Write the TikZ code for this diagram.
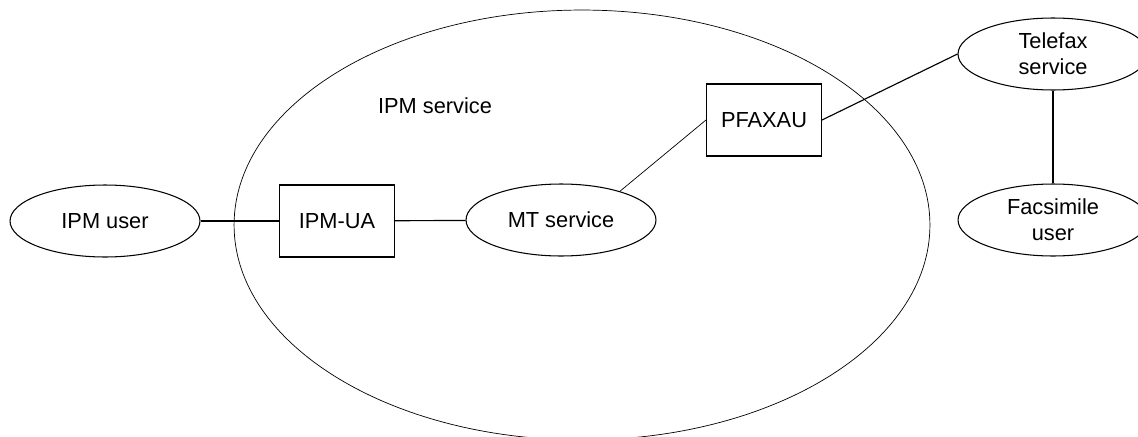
\documentclass[tikz,border=0pt]{standalone}
\usepackage{fontspec}
\setmainfont{Liberation Sans}
\usetikzlibrary{shapes.geometric}

\tikzset{
  svc/.style={draw, ellipse, line width=0.6pt, minimum width=3.8cm, minimum height=1.44cm,
    inner sep=0pt, align=center, font=\fontsize{12.4}{14.7}\selectfont},
  unit/.style={draw, rectangle, line width=0.6pt, minimum width=2.3cm, minimum height=1.44cm,
    inner sep=0pt, font=\fontsize{12.4}{14.7}\selectfont},
  link/.style={line width=0.65pt},
  thinlink/.style={line width=0.4pt}
}

\begin{document}
\begin{tikzpicture}[x=0.02cm, y=-0.02cm]
			%%%%% frame %%%%%
			\useasboundingbox (0,0) rectangle (1138,436);
			
			% IPM service domain
			\draw[thinlink] (582,225) ellipse [x radius=6.96cm, y radius=4.3cm];
			\node[font=\fontsize{12.4}{14.7}\selectfont] (ipmsvc) at (435,106) {IPM service};
			
			\node[svc] (ipmuser) at (105,221) {IPM user};
			\node[unit] (ipmua) at (337,221) {IPM-UA};
			\node[svc] (mt) at (561,220) {MT service};
			\node[unit] (pfaxau) at (764,120) {PFAXAU};
			
			\node[svc] (telefax) at (1053,54) {Telefax\\service};
			\node[svc] (fax) at (1053,220) {Facsimile\\user};
			
			\draw[link] (ipmuser) -- (ipmua);
			\draw[link] (ipmua) -- (mt);
			\draw[thinlink] (mt.26) -- (pfaxau.west);
			\draw[link] (pfaxau.east) -- (telefax.west);
			\draw[link] (telefax) -- (fax);
			
			%%%%% END %%%%%
\end{tikzpicture}
\end{document}
